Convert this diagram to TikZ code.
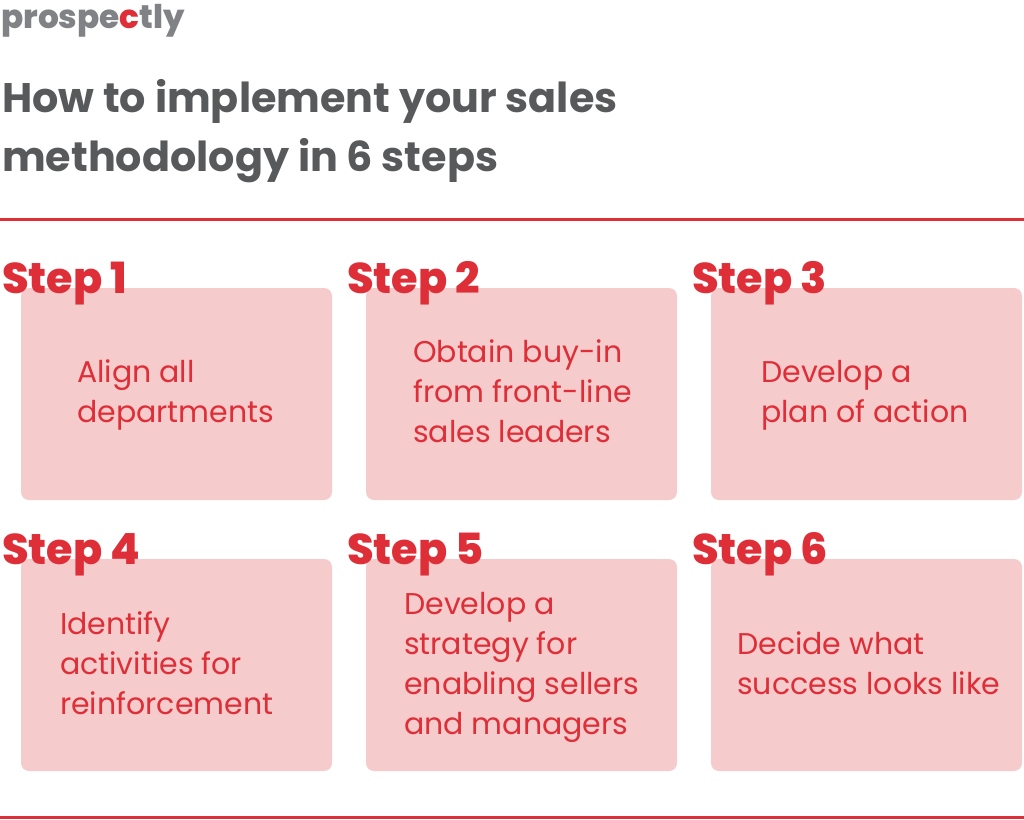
\documentclass[tikz,border=0pt]{standalone}
\usepackage{fontspec}
\setmainfont{Poppins}
\newfontfamily\heavyfont{Poppins ExtraBold}
\definecolor{stepred}{HTML}{DE2F38}
\definecolor{boxpink}{HTML}{F5CBCC}
\definecolor{titlegrey}{HTML}{58595B}
\definecolor{logogrey}{HTML}{808285}
\tikzset{
    stepbox/.style={fill=boxpink, rounded corners=8pt},
    steplabel/.style={anchor=base west, inner sep=0pt, text=stepred, font=\fontsize{43}{43}\selectfont\heavyfont},
    steptext/.style={anchor=west, inner sep=0pt, text=stepred, align=left, font=\fontsize{30}{40}\selectfont},
    titletext/.style={anchor=base west, inner sep=0pt, text=titlegrey, font=\fontsize{41.3}{41.3}\selectfont\bfseries}
}
\begin{document}
\begin{tikzpicture}[x=1pt, y=-1pt]
    \useasboundingbox (0,0) rectangle (1024,819);

    % logo
    \node[anchor=base west, inner sep=0pt, text=logogrey, font=\fontsize{32.7}{32.7}\selectfont\heavyfont] (logo) at (1,28) {prospe\textcolor{stepred}{c}tly};

    % title
    \node[titletext] (title1) at (2,112) {How to implement your sales};
    \node[titletext] (title2) at (2,171) {methodology in 6 steps};

    % rules
    \draw[stepred, line width=3pt] (0,219) -- (1024,219);
    \draw[stepred, line width=3pt] (0,817) -- (1024,817);

    % boxes
    \foreach \name/\x/\y in {a/21/288, b/366/288, c/711/288, d/21/559, e/366/559, f/711/559}
        \fill[stepbox] (\x,\y) rectangle ++(311,212);

    % step labels
    \node[steplabel] (step1) at (2,293) {Step 1};
    \node[steplabel] (step2) at (347,293) {Step 2};
    \node[steplabel] (step3) at (692,293) {Step 3};
    \node[steplabel] (step4) at (2,564) {Step 4};
    \node[steplabel] (step5) at (347,564) {Step 5};
    \node[steplabel] (step6) at (692,564) {Step 6};

    % box texts
    \node[steptext] (text1) at (77,395) {Align all\\departments};
    \node[steptext] (text2) at (413,391) {Obtain buy-in\\from front-line\\sales leaders};
    \node[steptext] (text3) at (761,395) {Develop a\\plan of action};
    \node[steptext] (text4) at (60,663) {Identify\\activities for\\reinforcement};
    \node[steptext] (text5) at (404,667) {Develop a\\strategy for\\enabling sellers\\and managers};
    \node[steptext] (text6) at (737,663) {Decide what\\success looks like};
\end{tikzpicture}
\end{document}
